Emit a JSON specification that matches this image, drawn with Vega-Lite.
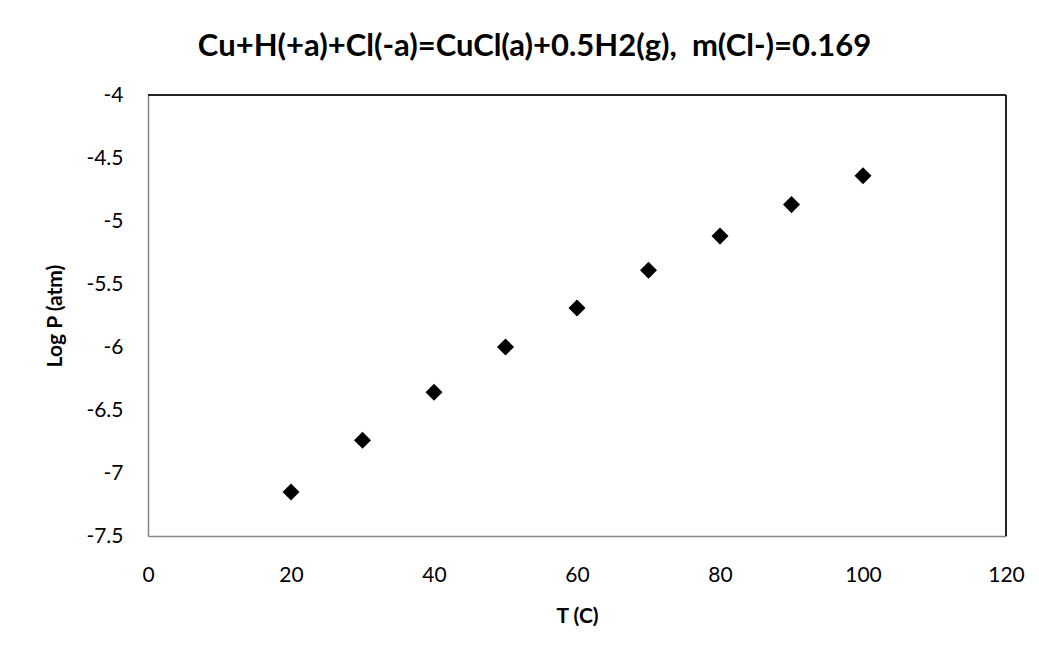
{
  "$schema": "https://vega.github.io/schema/vega-lite/v6.json",
  "width": 858,
  "height": 441,
  "autosize": "none",
  "padding": {"left": 148, "top": 95, "right": 33, "bottom": 117},
  "background": "white",
  "title": {
    "text": "Cu+H(+a)+Cl(-a)=CuCl(a)+0.5H2(g),\u00a0 m(Cl-)=0.169",
    "font": "Lato",
    "fontSize": 31,
    "fontWeight": "bold",
    "color": "#000000",
    "anchor": "middle",
    "frame": "bounds",
    "offset": 21
  },
  "data": {
    "values": [
      {"T": 20, "logP": -7.15},
      {"T": 30, "logP": -6.74},
      {"T": 40, "logP": -6.36},
      {"T": 50, "logP": -6.0},
      {"T": 60, "logP": -5.69},
      {"T": 70, "logP": -5.39},
      {"T": 80, "logP": -5.12},
      {"T": 90, "logP": -4.87},
      {"T": 100, "logP": -4.64}
    ]
  },
  "layer": [
    {
      "mark": {"type": "point", "shape": "diamond", "filled": true, "size": 290, "color": "#000000", "opacity": 1},
      "encoding": {
        "x": {
          "field": "T",
          "type": "quantitative",
          "scale": {"domain": [0, 120], "nice": false, "zero": false},
          "axis": {
            "title": "T (C)",
            "values": [0, 20, 40, 60, 80, 100, 120],
            "grid": false,
            "ticks": false,
            "domainColor": "#868686",
            "domainWidth": 1.5,
            "labelFont": "Lato",
            "labelFontSize": 21,
            "labelColor": "#000000",
            "labelPadding": 28,
            "labelFlush": false,
            "titleFont": "Lato",
            "titleFontSize": 21,
            "titleFontWeight": "bold",
            "titleColor": "#000000",
            "titlePadding": 20
          }
        },
        "y": {
          "field": "logP",
          "type": "quantitative",
          "scale": {"domain": [-7.5, -4], "nice": false, "zero": false},
          "axis": {
            "title": "Log P (atm)",
            "values": [-7.5, -7, -6.5, -6, -5.5, -5, -4.5, -4],
            "labelExpr": "toString(datum.value)",
            "grid": false,
            "ticks": false,
            "domainColor": "#868686",
            "domainWidth": 1.5,
            "labelFont": "Lato",
            "labelFontSize": 21,
            "labelColor": "#000000",
            "labelPadding": 25,
            "labelFlush": false,
            "titleFont": "Lato",
            "titleFontSize": 21,
            "titleFontWeight": "bold",
            "titleColor": "#000000",
            "titlePadding": 20
          }
        }
      }
    },
    {
      "mark": {"type": "rule", "color": "#222222", "strokeWidth": 1.5},
      "encoding": {"y": {"datum": -4}}
    },
    {
      "mark": {"type": "rule", "color": "#222222", "strokeWidth": 1.5},
      "encoding": {"x": {"datum": 120}}
    }
  ],
  "config": {"view": {"stroke": null}}
}
